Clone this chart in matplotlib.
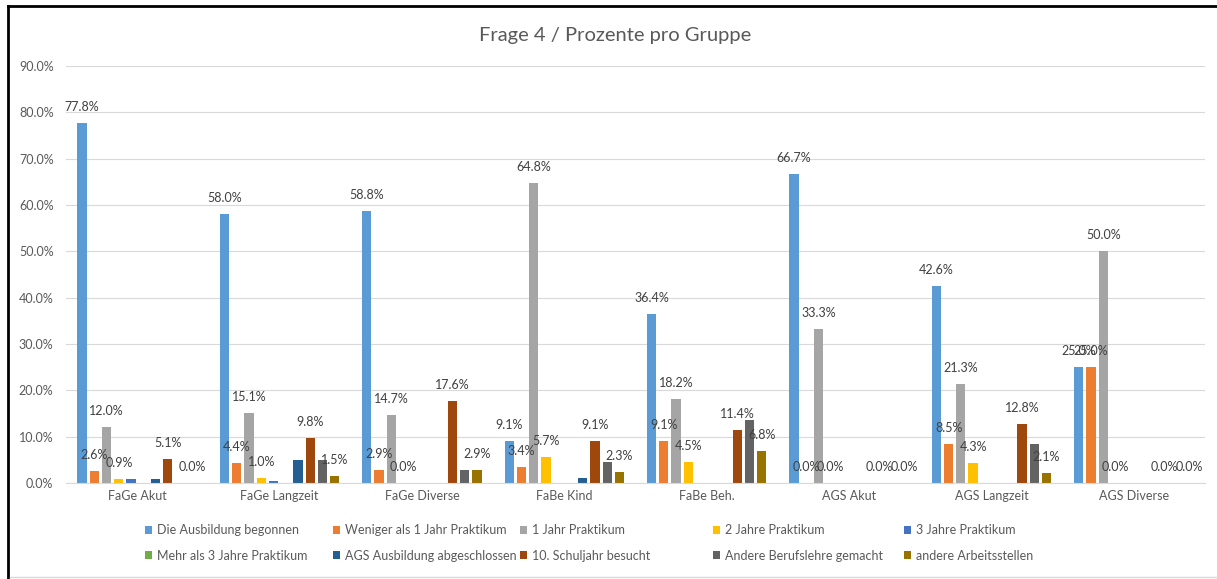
import numpy as np
import matplotlib
matplotlib.use("Agg")
import matplotlib.pyplot as plt
from matplotlib.lines import Line2D

plt.rcParams['font.family'] = ['Lato', 'DejaVu Sans']

# Daten (Prozent pro Gruppe)
gruppen = ["FaGe Akut", "FaGe Langzeit", "FaGe Diverse", "FaBe Kind",
           "FaBe Beh.", "AGS Akut", "AGS Langzeit", "AGS Diverse"]

ausbildung_begonnen = [77.8, 58.0, 58.8, 9.1, 36.4, 66.7, 42.6, 25.0]
weniger_1_jahr = [2.6, 4.4, 2.9, 3.4, 9.1, 0.0, 8.5, 25.0]
ein_jahr = [12.0, 15.1, 14.7, 64.8, 18.2, 33.3, 21.3, 50.0]
zwei_jahre = [0.9, 1.0, 0.0, 5.7, 4.5, 0.0, 4.3, 0.0]
drei_jahre = [0.9, 0.5, 0.0, 0.0, 0.0, 0.0, 0.0, 0.0]
mehr_3_jahre = [0.0, 0.0, 0.0, 0.0, 0.0, 0.0, 0.0, 0.0]
ags_abgeschlossen = [0.9, 4.9, 0.0, 1.1, 0.0, 0.0, 0.0, 0.0]
schuljahr_10 = [5.1, 9.8, 17.6, 9.1, 11.4, 0.0, 12.8, 0.0]
andere_lehre = [0.0, 4.9, 2.9, 4.5, 13.6, 0.0, 8.5, 0.0]
andere_stellen = [0.0, 1.5, 2.9, 2.3, 6.8, 0.0, 2.1, 0.0]

serien = ["Die Ausbildung begonnen", "Weniger als 1 Jahr Praktikum", "1 Jahr Praktikum",
          "2 Jahre Praktikum", "3 Jahre Praktikum", "Mehr als 3 Jahre Praktikum",
          "AGS Ausbildung abgeschlossen", "10. Schuljahr besucht",
          "Andere Berufslehre gemacht", "andere Arbeitsstellen"]
werte = [ausbildung_begonnen, weniger_1_jahr, ein_jahr, zwei_jahre, drei_jahre,
         mehr_3_jahre, ags_abgeschlossen, schuljahr_10, andere_lehre, andere_stellen]
farben = ["#5B9BD5", "#ED7D31", "#A5A5A5", "#FFC000", "#4472C4",
          "#70AD47", "#255E91", "#9E480E", "#636363", "#997300"]
mit_label = [0, 1, 2, 3, 7, 9]   # nur diese Serien haben Datenbeschriftungen

W, H = 1217, 579
fig = plt.figure(figsize=(W / 100, H / 100), dpi=100)
ax = fig.add_axes([66 / W, 1 - 483 / H, (1205 - 66) / W, (483 - 66) / H])

x = np.arange(len(gruppen))
step = 0.086
breite = 0.065
handles = []
for i in range(len(serien)):
    pos = x + (i - 4.5) * step
    b = ax.bar(pos, werte[i], breite, color=farben[i], label=serien[i], zorder=2)
    handles.append(b)
    if i in mit_label:
        for px, v in zip(pos, werte[i]):
            ax.annotate("%.1f%%" % v, (px, v), xytext=(0, 16), textcoords="offset pixels",
                        ha="center", va="center", fontsize=9, color="#404040", zorder=3)

ax.set_xlim(-0.5, len(gruppen) - 0.5)
ax.set_ylim(0, 90)
ax.set_yticks(np.arange(0, 91, 10))
ax.set_yticklabels(["%.1f%%" % t for t in np.arange(0, 91, 10)])
ax.set_xticks(x)
ax.set_xticklabels(gruppen)
ax.tick_params(length=0, colors="#595959", labelsize=9)
ax.tick_params(axis="y", pad=9)
ax.tick_params(axis="x", pad=5)
ax.yaxis.grid(True, color="#D9D9D9", lw=0.8, zorder=0)
ax.set_axisbelow(True)
for s in ["top", "right", "left"]:
    ax.spines[s].set_visible(False)
ax.spines["bottom"].set_color("#D9D9D9")

fig.text(615 / W, 1 - 35 / H, "Frage 4 / Prozente pro Gruppe", ha="center", va="center",
         fontsize=14.5, color="#595959")

# Legende: 5 Spalten mit je 2 Einträgen, gleichmässig verteilt
spalten_x = [145, 333, 520, 713, 904]
for j, sx in enumerate(spalten_x):
    fig.legend([handles[j], handles[j + 5]], [serien[j], serien[j + 5]],
               loc="center left", bbox_to_anchor=(sx / W, 1 - 543 / H),
               frameon=False, fontsize=9, labelcolor="#595959",
               handlelength=0.58, handleheight=0.58, handletextpad=0.35,
               borderpad=0, borderaxespad=0, labelspacing=1.04)

# Rahmen vom Screenshot
fig.add_artist(Line2D([8 / W, 8 / W], [0, 1 - 6 / H], color="black", lw=2))
fig.add_artist(Line2D([8 / W, 1], [1 - 6 / H, 1 - 6 / H], color="black", lw=2))
fig.add_artist(Line2D([10 / W, 1], [1 - 577 / H, 1 - 577 / H], color="#D9D9D9", lw=1))

fig.savefig("out.png", dpi=100)
